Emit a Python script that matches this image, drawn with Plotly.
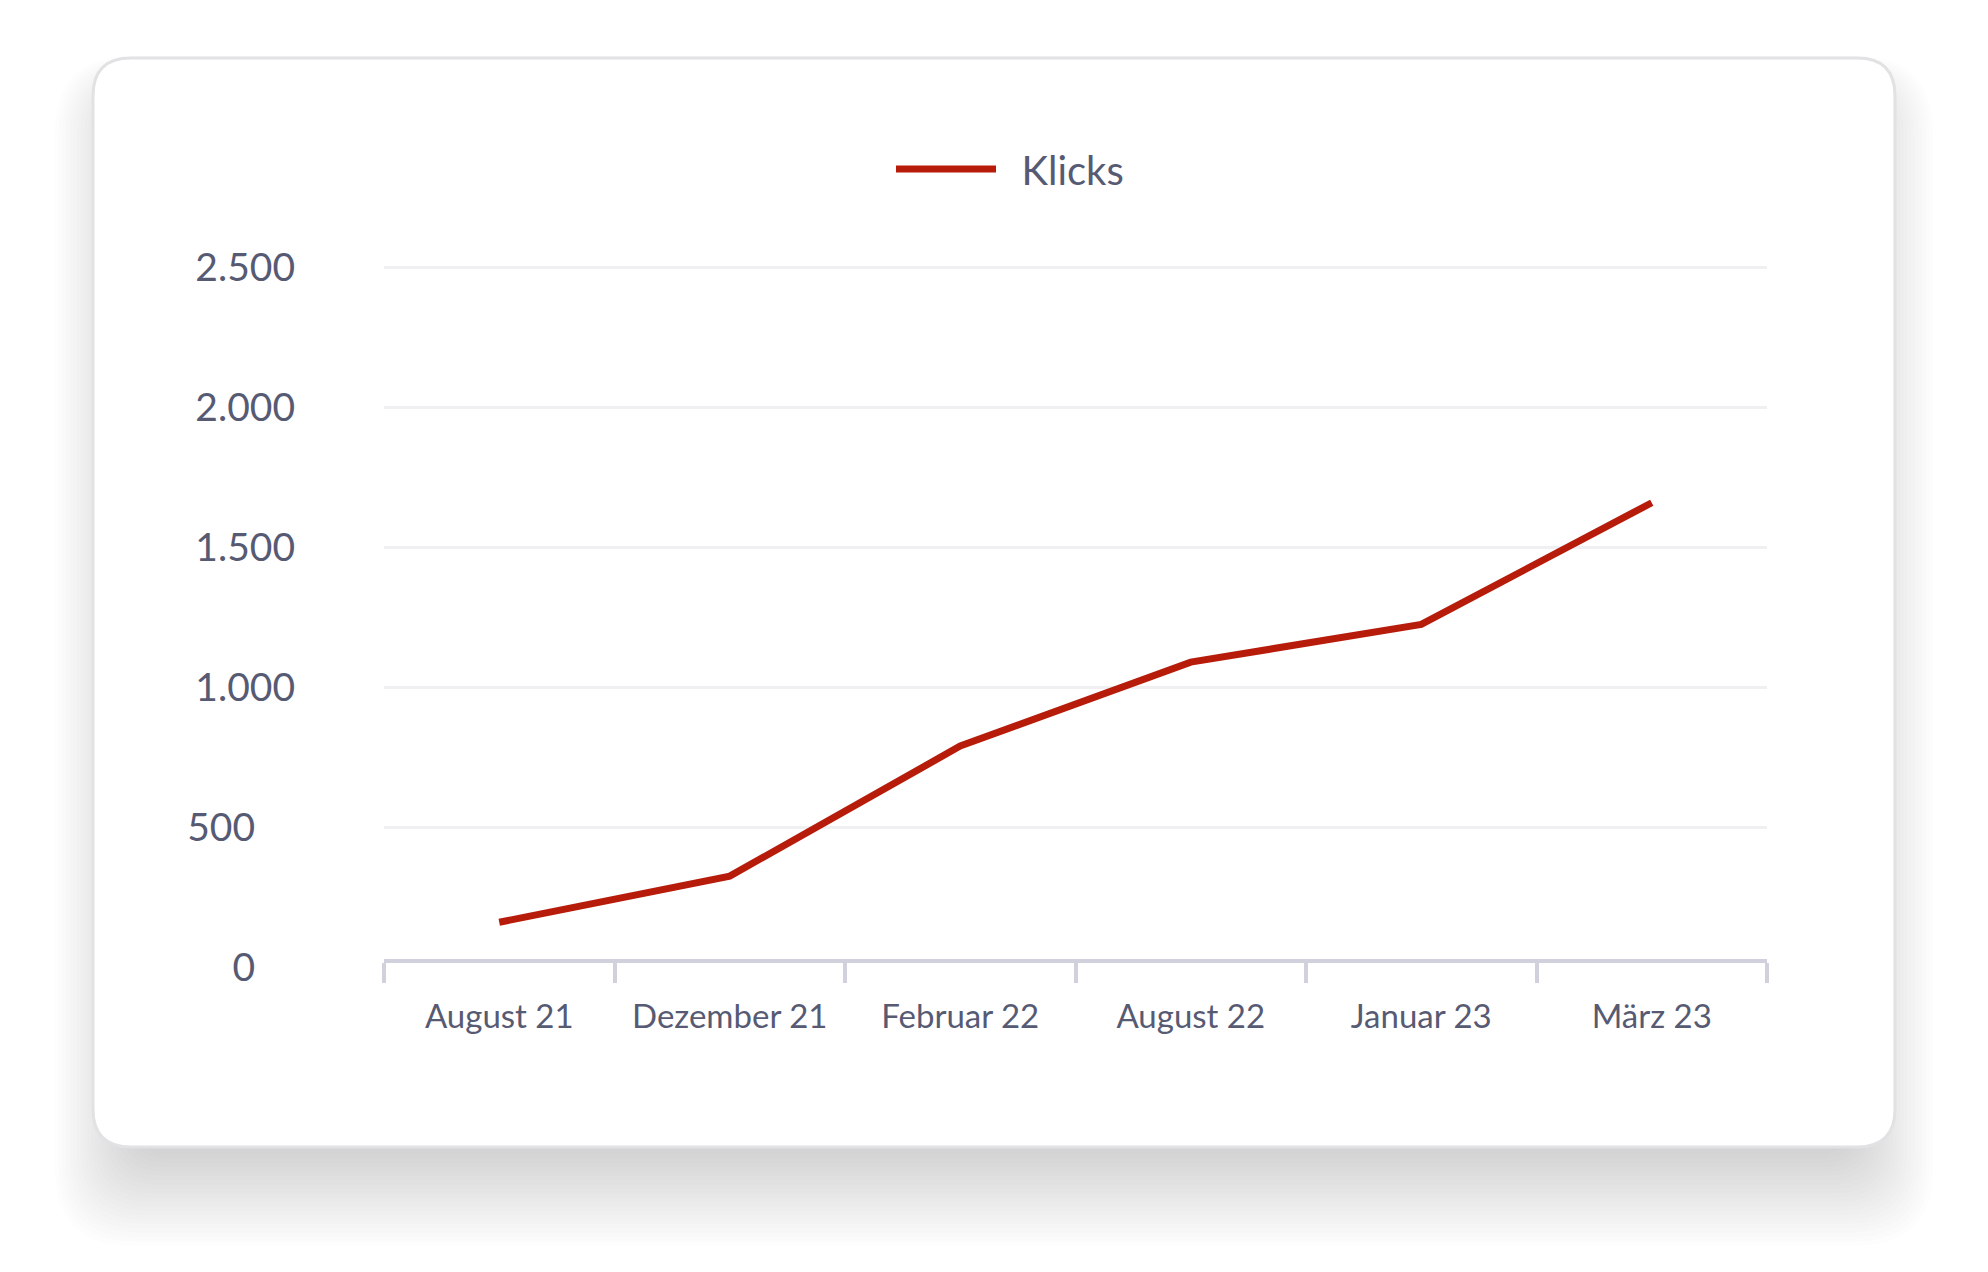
import plotly.graph_objects as go

# ---- data ----
months = ["August 21", "Dezember 21", "Februar 22", "August 22", "Januar 23", "März 23"]
klicks = [160, 325, 790, 1090, 1225, 1660]
y_tick_vals = [0, 500, 1000, 1500, 2000, 2500]
y_tick_labels = ["0", "500", "1.000", "1.500", "2.000", "2.500"]
series_name = "Klicks"

# ---- geometry ----
W, H = 1988, 1272
L, R, T, B = 384, 221, 265, 305
PW, PH = W - L - R, H - T - B

def px(x):
    return (x - L) / PW

def py(y):
    return (H - B - y) / PH

def rrect(x0, y0, x1, y1, r):
    pts = [
        f"M{px(x0 + r)},{py(y0)}",
        f"L{px(x1 - r)},{py(y0)}",
        f"Q{px(x1)},{py(y0)} {px(x1)},{py(y0 + r)}",
        f"L{px(x1)},{py(y1 - r)}",
        f"Q{px(x1)},{py(y1)} {px(x1 - r)},{py(y1)}",
        f"L{px(x0 + r)},{py(y1)}",
        f"Q{px(x0)},{py(y1)} {px(x0)},{py(y1 - r)}",
        f"L{px(x0)},{py(y0 + r)}",
        f"Q{px(x0)},{py(y0)} {px(x0 + r)},{py(y0)}",
        "Z",
    ]
    return " ".join(pts)

shapes = []
# soft shadow (stack of translucent rounded rects)
cx0, cy0, cx1, cy1, cr = 93, 58, 1895, 1147, 38
n, G = 22, 80
for i in range(n):
    g = G * (i + 0.5) / n
    shapes.append(dict(
        type="path", xref="paper", yref="paper", layer="below",
        path=rrect(cx0 + 40 - g, cy0 + 45 - 0.6 * g, cx1 - 40 + g, cy1 + 5 + 1.2 * g, cr + g * 0.5),
        fillcolor="rgba(0,0,0,0.0085)", line=dict(width=0),
    ))
# card
shapes.append(dict(
    type="path", xref="paper", yref="paper", layer="below",
    path=rrect(cx0, cy0, cx1, cy1, cr),
    fillcolor="white", line=dict(color="#e2e2e4", width=3),
))

pad = {"0": "\u00a0\u00a0\u00a0\u00a0", "500": "\u00a0\u00a0\u00a0\u00a0"}
ticktext = [t + pad.get(t, "") for t in y_tick_labels]

fig = go.Figure()
fig.add_trace(go.Scatter(
    x=months, y=klicks, mode="lines", name="\u00a0\u00a0" + series_name,
    line=dict(color="#B71C0B", width=7),
))

txt = "#575a73"
fig.update_layout(
    width=W, height=H,
    margin=dict(l=L, r=R, t=T, b=B, pad=0),
    paper_bgcolor="white", plot_bgcolor="rgba(0,0,0,0)",
    font=dict(family="Lato, 'Noto Sans', sans-serif", color=txt),
    shapes=shapes,
    showlegend=True,
    legend=dict(
        orientation="h", x=px(1010), xanchor="center", y=py(169), yanchor="middle",
        font=dict(size=40, color=txt), itemwidth=100, bgcolor="rgba(0,0,0,0)",
    ),
    xaxis=dict(
        type="category", range=[-0.5, 5.5], tickson="boundaries",
        anchor="free", position=py(961),
        showgrid=False, zeroline=False,
        showline=True, linecolor="#d0d1dc", linewidth=4,
        ticks="outside", ticklen=20, tickwidth=4, tickcolor="#d0d1dc",
        ticklabelstandoff=25,
        tickfont=dict(size=33, color=txt),
    ),
    yaxis=dict(
        range=[0, 2510], tickvals=y_tick_vals, ticktext=ticktext,
        showgrid=True, gridcolor="#f0f0f3", gridwidth=3,
        zeroline=False, showline=False, ticks="",
        ticklabelstandoff=88,
        tickfont=dict(size=39, color=txt),
    ),
)

fig.write_html("out.html")
